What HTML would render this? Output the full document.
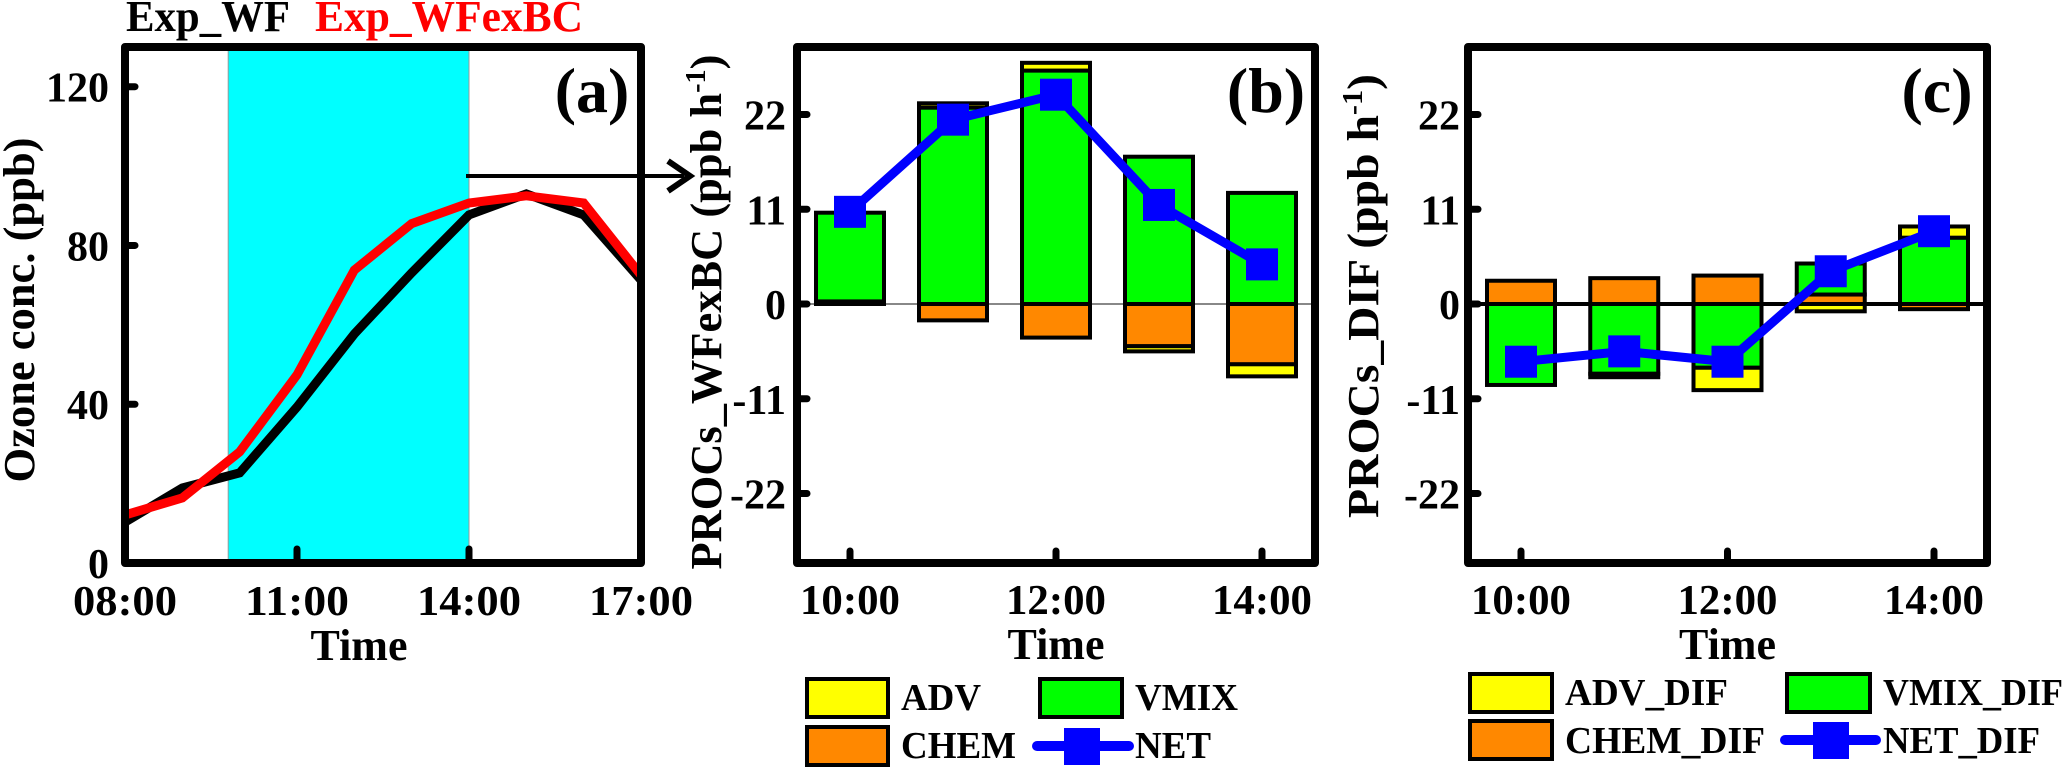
<!DOCTYPE html>
<html><head><meta charset="utf-8">
<style>
html,body{margin:0;padding:0;background:#fff;}
svg, svg text, svg tspan{font-family:"Liberation Serif","DejaVu Serif","Times New Roman",serif;font-weight:bold;}
</style></head>
<body>
<svg id="fig" width="2067" height="767" viewBox="0 0 2067 767" xmlns="http://www.w3.org/2000/svg" font-family="'Liberation Serif', 'DejaVu Serif', serif" font-weight="bold">
  <g id="pa"></g>
  <g id="pb"></g>
  <g id="pc"></g>
  <g id="lg"></g>
</svg>
<script>
// ---- Panel (a) data ----
const hoursA = [8, 9, 10, 11, 12, 13, 14, 15, 16, 17];
const ozoneWF = [10.3, 18.9, 22.7, 39.3, 57.7, 73.1, 87.7, 93.0, 87.7, 71.3];
const ozoneWFexBC = [12.1, 16.4, 28.0, 47.4, 73.8, 85.5, 90.7, 92.5, 90.7, 72.5];
const yTicksA = [0, 40, 80, 120];
const xTickLabelsA = ["08:00", "11:00", "14:00", "17:00"];
const xTickHoursA = [8, 11, 14, 17];
const shadeA = [9.8, 14];
// ---- Panel (b) data ----
const catsB = ["10:00", "11:00", "12:00", "13:00", "14:00"];
const advB = [0, 0.5, 0.9, -0.6, -1.4];
const chemB = [0.3, -1.9, -3.9, -4.9, -7.0];
const vmixB = [10.3, 22.8, 27.1, 17.1, 12.9];
const netB = [10.7, 21.4, 24.3, 11.5, 4.6];
// ---- Panel (c) data ----
const advC = [0, -0.4, -2.6, -0.85, 1.3];
const chemC = [2.7, 3.0, 3.3, 1.1, -0.6];
const vmixC = [-9.4, -8.1, -7.4, 3.6, 7.7];
const netC = [-6.7, -5.5, -6.7, 3.8, 8.45];
const yTicksBC = [22, 11, 0, -11, -22];
const xTickLabelsBC = ["10:00", "12:00", "14:00"];
const xTickIdxBC = [0, 2, 4];

const NS = "http://www.w3.org/2000/svg";
function mk(parent, tag, attrs, text) {
  const e = document.createElementNS(NS, tag);
  for (const k in attrs) e.setAttribute(k, attrs[k]);
  if (text !== undefined) e.textContent = text;
  parent.appendChild(e);
  return e;
}
const TOP = 47, BOT = 563;

// ================= Panel A =================
(function () {
  const g = document.getElementById('pa');
  const L = 125, R = 641;
  const x = h => L + (h - 8) / 9 * (R - L);
  const y = v => BOT - v / 130 * (BOT - TOP);
  const sh = mk(g, 'rect', {x: x(shadeA[0]), y: TOP, width: x(shadeA[1]) - x(shadeA[0]), height: BOT - TOP, fill: '#00ffff', stroke: '#999', 'stroke-width': 1});
  
  
  function line(vals, color, name) {
    const p = mk(g, 'polyline', {points: vals.map((v, i) => x(hoursA[i]) + ',' + y(v)).join(' '), fill: 'none', stroke: color, 'stroke-width': 9, 'stroke-linejoin': 'miter'});
    
    
  }
  line(ozoneWF, '#000', 'line-exp-wf');
  line(ozoneWFexBC, '#ff0000', 'line-exp-wfexbc');
  const fr = mk(g, 'rect', {x: L, y: TOP, width: R - L, height: BOT - TOP, fill: 'none', stroke: '#000', 'stroke-width': 8, 'stroke-linejoin': 'round'});
  
  
  yTicksA.forEach(v => {
    if (v > 0) mk(g, 'line', {x1: L, x2: L + 10, y1: y(v), y2: y(v), stroke: '#000', 'stroke-width': 7, 'stroke-linecap': 'round'});
    const t = mk(g, 'text', {x: L - 16, y: y(v) + 15, 'font-size': 42, 'text-anchor': 'end'}, String(v));
    
    
  });
  xTickHoursA.forEach((h, i) => {
    if (i > 0 && i < 3) mk(g, 'line', {x1: x(h), x2: x(h), y1: BOT, y2: BOT - 14, stroke: '#000', 'stroke-width': 7, 'stroke-linecap': 'round'});
    const t = mk(g, 'text', {x: x(h), y: 615, 'font-size': 42, 'text-anchor': 'middle', textLength: 104, lengthAdjust: 'spacingAndGlyphs'}, xTickLabelsA[i]);
    
    
  });
})();
</script>
<script>
(function(){
  const g = document.getElementById('pa');
  g.insertAdjacentHTML('beforeend',
   '<text x="359" y="660" font-size="44" text-anchor="middle">Time</text>' +
   '<text transform="translate(34,310) rotate(-90)" font-size="44" text-anchor="middle" textLength="345" lengthAdjust="spacingAndGlyphs">Ozone conc. (ppb)</text>' +
   '<text x="126" y="31" font-size="44" textLength="164" lengthAdjust="spacingAndGlyphs">Exp_WF</text>' +
   '<text x="315" y="31" font-size="44" fill="#ff0000" textLength="268" lengthAdjust="spacingAndGlyphs">Exp_WFexBC</text>' +
   '<text x="592" y="112" font-size="64" text-anchor="middle">(a)</text>' +
   '<g><line x1="466" y1="176" x2="684" y2="176" stroke="#000" stroke-width="4"/><polyline points="668,161 690,176 668,191" fill="none" stroke="#000" stroke-width="6" stroke-linejoin="miter"/></g>');
})();
</script>
<script>
// ================= Panels B and C =================
function barPanel(gid, L, R, adv, chem, vmix, net, tag, blackZero, labelRight, titleX, titleY, titleLen, titleText, plabel, plabelX) {
  const g = document.getElementById(gid);
  const n = adv.length;
  const step = (R - L - 106) / (n - 1);
  const x = i => L + 53 + i * step;
  const y = v => 304 - v * (189.5 / 22);
  const bw = 68;
  const colors = {chem: '#ff8800', vmix: '#00ff00', adv: '#ffff00'};
  if (!blackZero) mk(g, 'line', {x1: L, x2: R, y1: y(0), y2: y(0), stroke: '#888', 'stroke-width': 2});
  for (let i = 0; i < n; i++) {
    let pos = 0, neg = 0;
    [['chem', chem[i]], ['vmix', vmix[i]], ['adv', adv[i]]].forEach(([k, v]) => {
      if (v === 0) return;
      let y0, y1;
      if (v > 0) { y0 = pos; y1 = pos + v; pos = y1; } else { y0 = neg; y1 = neg + v; neg = y1; }
      const r = mk(g, 'rect', {x: x(i) - bw / 2, y: Math.min(y(y0), y(y1)), width: bw, height: Math.abs(y(y1) - y(y0)), fill: colors[k], stroke: '#000', 'stroke-width': 4});
      
      
    });
  }
  if (blackZero) mk(g, 'line', {x1: L, x2: R, y1: y(0), y2: y(0), stroke: '#000', 'stroke-width': 4});
  const pl = mk(g, 'polyline', {points: net.map((v, i) => x(i) + ',' + y(v)).join(' '), fill: 'none', stroke: '#0000ff', 'stroke-width': 9, 'stroke-linejoin': 'round'});
  
  
  net.forEach((v, i) => {
    const m = mk(g, 'rect', {x: x(i) - 16, y: y(v) - 16, width: 32, height: 32, fill: '#0000ff'});
    
    
  });
  const fr = mk(g, 'rect', {x: L, y: TOP, width: R - L, height: BOT - TOP, fill: 'none', stroke: '#000', 'stroke-width': 8, 'stroke-linejoin': 'round'});
  
  
  yTicksBC.forEach(v => {
    mk(g, 'line', {x1: L, x2: L + 10, y1: y(v), y2: y(v), stroke: '#000', 'stroke-width': 7, 'stroke-linecap': 'round'});
    const t = mk(g, 'text', {x: labelRight, y: y(v) + 15, 'font-size': 42, 'text-anchor': 'end'}, String(v));
    
    
  });
  xTickIdxBC.forEach((idx, j) => {
    mk(g, 'line', {x1: x(idx), x2: x(idx), y1: BOT, y2: BOT - 12, stroke: '#000', 'stroke-width': 7, 'stroke-linecap': 'round'});
    const t = mk(g, 'text', {x: x(idx), y: 614, 'font-size': 42, 'text-anchor': 'middle', textLength: 100, lengthAdjust: 'spacingAndGlyphs'}, xTickLabelsBC[j]);
    
    
  });
  const xt = mk(g, 'text', {x: x(2), y: 659, 'font-size': 44, 'text-anchor': 'middle'}, 'Time');
  
  
  const yt = mk(g, 'text', {transform: 'translate(' + titleX + ',' + titleY + ') rotate(-90)', 'font-size': 44, 'text-anchor': 'middle', textLength: titleLen, lengthAdjust: 'spacingAndGlyphs'});
  
  
  mk(yt, 'tspan', {}, titleText + ' (ppb h');
  mk(yt, 'tspan', {dy: -16, 'font-size': 28}, '-1');
  mk(yt, 'tspan', {dy: 16}, ')');
  const pt = mk(g, 'text', {x: plabelX, y: 112, 'font-size': 64, 'text-anchor': 'middle'}, plabel);
  
  
}
barPanel('pb', 797, 1315, advB, chemB, vmixB, netB, 'b', false, 786, 721, 312, 515, 'PROCs_WFexBC', '(b)', 1266);
barPanel('pc', 1468, 1987, advC, chemC, vmixC, netC, 'c', true, 1460, 1378, 296, 444, 'PROCs_DIF', '(c)', 1937);

// ================= Legends =================
(function () {
  const g = document.getElementById('lg');
  function box(x, y, w, h, fill, label, tx, ty, tl, name) {
    const r = mk(g, 'rect', {x: x, y: y, width: w, height: h, fill: fill, stroke: '#000', 'stroke-width': 4});
    
    
    const t = mk(g, 'text', {x: tx, y: ty, 'font-size': 38, textLength: tl, lengthAdjust: 'spacingAndGlyphs'}, label);
    
    
  }
  function netEntry(x1, x2, mx, cy, label, tx, ty, tl, name) {
    const l = mk(g, 'line', {x1: x1, x2: x2, y1: cy, y2: cy, stroke: '#0000ff', 'stroke-width': 10, 'stroke-linecap': 'round'});
    
    
    mk(g, 'rect', {x: mx, y: cy - 18, width: 36, height: 37, fill: '#0000ff'});
    const t = mk(g, 'text', {x: tx, y: ty, 'font-size': 38, textLength: tl, lengthAdjust: 'spacingAndGlyphs'}, label);
    
    
  }
  box(807, 679, 81, 38, '#ffff00', 'ADV', 901, 710, 80, 'legend-adv');
  box(1040, 679, 82, 38, '#00ff00', 'VMIX', 1135, 710, 103, 'legend-vmix');
  box(807, 727, 81, 38, '#ff8800', 'CHEM', 901, 758, 115, 'legend-chem');
  netEntry(1037, 1129, 1064, 746, 'NET', 1135, 758, 76, 'legend-net');
  box(1470, 674, 82, 38, '#ffff00', 'ADV_DIF', 1565, 705, 163, 'legend-adv-dif');
  box(1787, 674, 83, 38, '#00ff00', 'VMIX_DIF', 1883, 705, 180, 'legend-vmix-dif');
  box(1470, 721, 82, 38, '#ff8800', 'CHEM_DIF', 1565, 753, 200, 'legend-chem-dif');
  netEntry(1785, 1876, 1813, 740, 'NET_DIF', 1883, 753, 157, 'legend-net-dif');
})();
</script>
</body></html>
